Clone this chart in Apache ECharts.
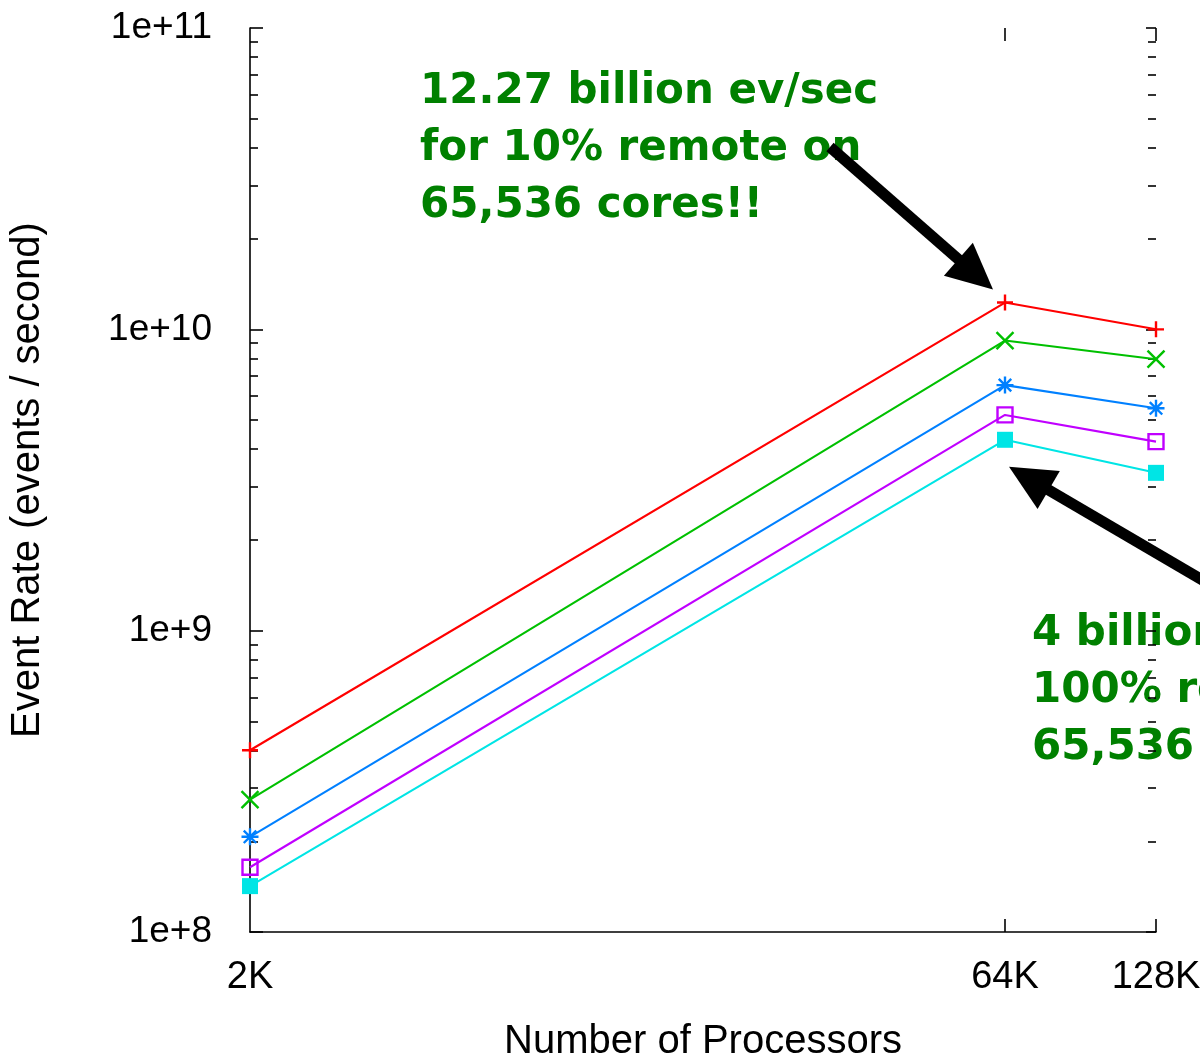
<!DOCTYPE html>
<html>
<head>
<meta charset="utf-8">
<title>Event Rate vs Number of Processors</title>
<script src="https://cdn.jsdelivr.net/npm/echarts@6/dist/echarts.min.js"></script>
<style>
  html, body { margin: 0; padding: 0; background: #ffffff; }
  #chart { width: 1200px; height: 1064px; }
</style>
</head>
<body>
<div id="chart"></div>
<script>
// Processor counts (x) and their tick labels
const processors = [2048, 65536, 131072];
const processorLabels = ['2K', '64K', '128K'];

// Event rates (events / second) for each run, one array per curve
const rateRed     = [4.01e8, 1.227e10, 1.0e10];   // 10% remote
const rateGreen   = [2.75e8, 9.18e9, 7.96e9];
const rateBlue    = [2.07e8, 6.53e9, 5.47e9];
const rateMagenta = [1.64e8, 5.2e9, 4.24e9];
const rateCyan    = [1.42e8, 4.3e9, 3.34e9];      // 100% remote

// Y axis decade ticks and the minor ticks between them
const yDecades = [1e8, 1e9, 1e10, 1e11];
const yMinor = [];
for (let d = 0; d < yDecades.length - 1; d++) {
  for (let k = 2; k <= 9; k++) yMinor.push(k * yDecades[d]);
}

const AXIS_FONT = '"Liberation Sans", Arial, Helvetica, sans-serif';
const NOTE_FONT = '"Comic Sans MS", "DejaVu Sans", sans-serif';

const SYM_PLUS   = 'path://M0,6H12M6,0V12';
const SYM_CROSS  = 'path://M0,0L12,12M12,0L0,12';
const SYM_STAR   = 'path://M0,6H12M6,0V12M1.6,1.6L10.4,10.4M10.4,1.6L1.6,10.4';
const SYM_SQUARE = 'path://M0,0H12V12H0Z';

function pairs(values) {
  return processors.map((p, i) => [p, values[i]]);
}

function curve(name, values, color, symbol, size, filled) {
  return {
    name: name,
    type: 'line',
    xAxisIndex: 0,
    yAxisIndex: 0,
    data: pairs(values),
    color: color,
    symbol: symbol,
    symbolSize: size,
    showSymbol: true,
    lineStyle: { color: color, width: 2.1 },
    itemStyle: {
      color: filled ? color : 'rgba(0,0,0,0)',
      borderColor: color,
      borderWidth: filled ? 0 : 2.4
    },
    emphasis: { disabled: true },
    silent: true
  };
}

const tickLine = { color: '#000', width: 1.6 };

const chart = echarts.init(document.getElementById('chart'), null, { renderer: 'canvas' });

chart.setOption({
  backgroundColor: '#ffffff',
  animation: false,
  grid: { left: 250, right: 44, top: 28, bottom: 132, containLabel: false, outerBoundsMode: 'none' },
  xAxis: [
    {
      type: 'log', logBase: 2, min: 2048, max: 131072, position: 'bottom',
      axisLine: { show: true, lineStyle: tickLine },
      axisTick: { show: true, inside: true, length: 13, lineStyle: tickLine, customValues: [65536, 131072] },
      axisLabel: {
        show: true, customValues: processors, margin: 27,
        fontFamily: AXIS_FONT, fontSize: 38, color: '#000',
        formatter: v => processorLabels[processors.indexOf(Math.round(v))] || ''
      },
      splitLine: { show: false },
      minorTick: { show: false },
      name: 'Number of Processors', nameLocation: 'middle', nameGap: 90,
      nameTextStyle: { fontFamily: AXIS_FONT, fontSize: 40, color: '#000' }
    },
    {
      type: 'log', logBase: 2, min: 2048, max: 131072, position: 'top',
      axisLine: { show: false },
      axisTick: { show: true, inside: true, length: 13, lineStyle: tickLine, customValues: [65536, 131072] },
      axisLabel: { show: false },
      splitLine: { show: false }
    }
  ],
  yAxis: [
    {
      type: 'log', logBase: 10, min: 1e8, max: 1e11, position: 'left',
      axisLine: { show: true, lineStyle: tickLine },
      axisTick: { show: true, inside: true, length: 13, lineStyle: tickLine, customValues: yDecades },
      axisLabel: {
        show: true, customValues: yDecades, margin: 38,
        fontFamily: AXIS_FONT, fontSize: 37, color: '#000',
        formatter: v => '1e+' + Math.round(Math.log10(v))
      },
      splitLine: { show: false },
      name: 'Event Rate (events / second)', nameLocation: 'middle', nameRotate: 90, nameGap: 202,
      nameTextStyle: { fontFamily: AXIS_FONT, fontSize: 40, color: '#000' }
    },
    {
      type: 'log', logBase: 10, min: 1e8, max: 1e11, position: 'left',
      axisLine: { show: false },
      axisTick: { show: true, inside: true, length: 8, lineStyle: tickLine, customValues: yMinor },
      axisLabel: { show: false },
      splitLine: { show: false }
    },
    {
      type: 'log', logBase: 10, min: 1e8, max: 1e11, position: 'right',
      axisLine: { show: false },
      axisTick: { show: true, inside: true, length: 10, lineStyle: tickLine, customValues: yDecades },
      axisLabel: { show: false },
      splitLine: { show: false }
    },
    {
      type: 'log', logBase: 10, min: 1e8, max: 1e11, position: 'right',
      axisLine: { show: false },
      axisTick: { show: true, inside: true, length: 8, lineStyle: tickLine, customValues: yMinor },
      axisLabel: { show: false },
      splitLine: { show: false }
    }
  ],
  series: [
    curve('remote10', rateRed, '#ff0000', SYM_PLUS, 16, false),
    curve('curveGreen', rateGreen, '#00c000', SYM_CROSS, 17, false),
    curve('curveBlue', rateBlue, '#0080ff', SYM_STAR, 17, false),
    curve('curveMagenta', rateMagenta, '#c000ff', SYM_SQUARE, 15, false),
    curve('remote100', rateCyan, '#00e5e5', 'rect', 16, true)
  ]
});

// Thick black arrow from (x0,y0) to the tip (x1,y1)
function arrow(x0, y0, x1, y1) {
  const dx = x1 - x0, dy = y1 - y0;
  const len = Math.sqrt(dx * dx + dy * dy);
  const ux = dx / len, uy = dy / len;
  const headLen = 46, headHalf = 22;
  const bx = x1 - ux * headLen, by = y1 - uy * headLen;
  const px = -uy, py = ux;
  return {
    type: 'group',
    silent: true,
    children: [
      {
        type: 'line',
        shape: { x1: x0, y1: y0, x2: bx + ux * 2, y2: by + uy * 2 },
        style: { stroke: '#000', lineWidth: 11, lineCap: 'butt' }
      },
      {
        type: 'polygon',
        shape: { points: [[x1, y1], [bx + px * headHalf, by + py * headHalf], [bx - px * headHalf, by - py * headHalf]] },
        style: { fill: '#000' }
      }
    ]
  };
}

// Annotations pointing at the 64K peaks of the top and bottom curves
const peakTop = chart.convertToPixel({ xAxisIndex: 0, yAxisIndex: 0 }, [processors[1], rateRed[1]]);
const peakBottom = chart.convertToPixel({ xAxisIndex: 0, yAxisIndex: 0 }, [processors[1], rateCyan[1]]);

chart.setOption({
  graphic: [
    {
      type: 'text', x: 420, y: 64, silent: true,
      style: {
        text: '12.27 billion ev/sec\nfor 10% remote on\n65,536 cores!!',
        font: 'bold 42px ' + NOTE_FONT, fill: '#008000', lineHeight: 57,
        align: 'left', verticalAlign: 'top'
      }
    },
    {
      type: 'text', x: 1032, y: 606, silent: true,
      style: {
        text: '4 billion ev/sec for\n100% remote on\n65,536 cores',
        font: 'bold 42px ' + NOTE_FONT, fill: '#008000', lineHeight: 57,
        align: 'left', verticalAlign: 'top'
      }
    },
    arrow(830, 147, peakTop[0] - 12, peakTop[1] - 13),
    arrow(1262, 615, peakBottom[0] + 4, peakBottom[1] + 27)
  ]
});
</script>
</body>
</html>
